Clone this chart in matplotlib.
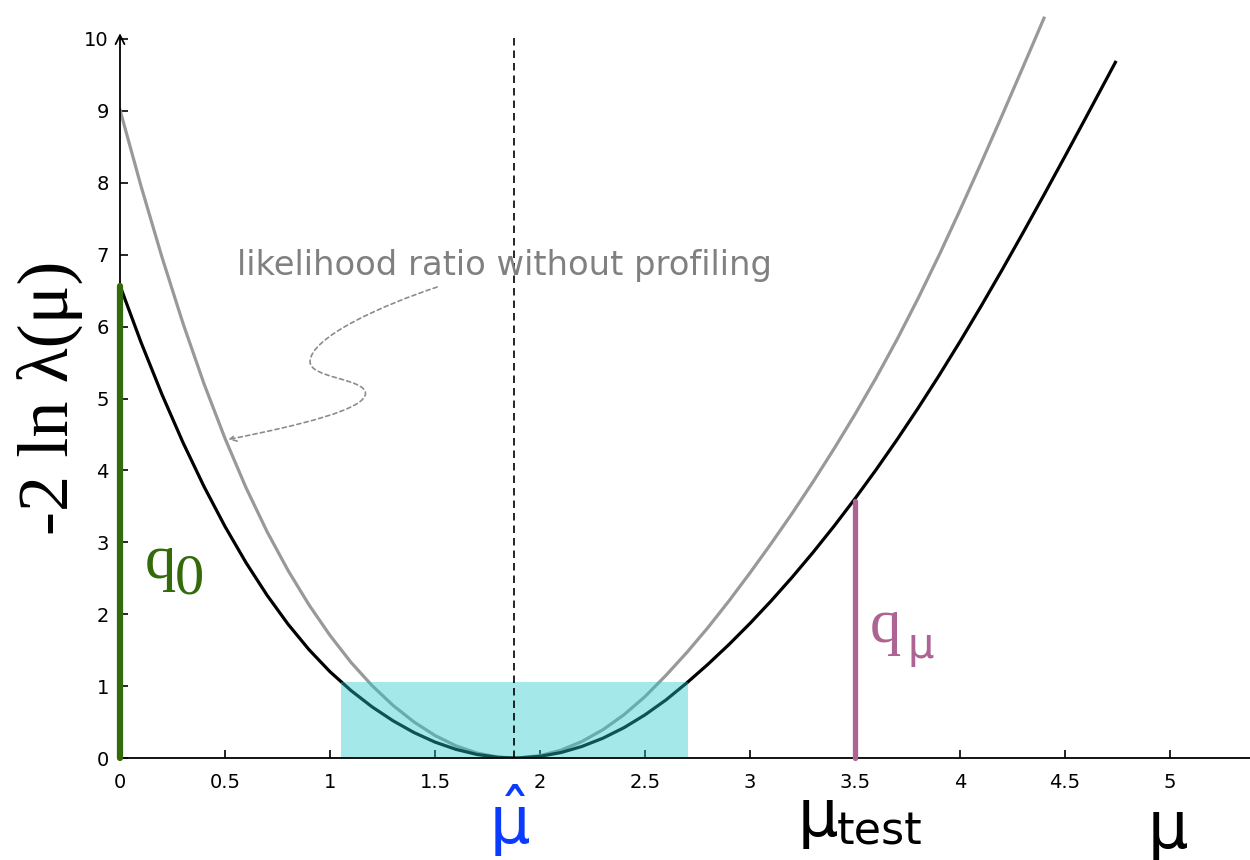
import matplotlib
matplotlib.use("Agg")
import matplotlib.pyplot as plt
from matplotlib.patches import Rectangle, FancyArrowPatch
from matplotlib.path import Path

# ---------------- data ----------------
mu_black = [0.0, 0.1, 0.2, 0.3, 0.4, 0.5, 0.6, 0.7, 0.8, 0.9, 1.0, 1.1, 1.2, 1.3, 1.4,
            1.5, 1.6, 1.7, 1.8, 1.88, 1.9, 2.0, 2.1, 2.2, 2.3, 2.4, 2.5, 2.6, 2.7, 2.8,
            2.9, 3.0, 3.1, 3.2, 3.3, 3.4, 3.5, 3.6, 3.7, 3.8, 3.9, 4.0, 4.1, 4.2, 4.3,
            4.4, 4.5, 4.6, 4.7, 4.74]
profiled = [6.569, 5.782, 5.055, 4.387, 3.776, 3.220, 2.717, 2.265, 1.862, 1.507, 1.200,
            0.938, 0.712, 0.518, 0.354, 0.221, 0.120, 0.049, 0.009, 0.000, 0.001, 0.023,
            0.076, 0.161, 0.276, 0.422, 0.600, 0.808, 1.047, 1.304, 1.579, 1.872, 2.183,
            2.512, 2.859, 3.224, 3.607, 4.008, 4.427, 4.864, 5.319, 5.792, 6.282, 6.787,
            7.305, 7.833, 8.369, 8.911, 9.457, 9.676]

mu_grey = [0.0, 0.1, 0.2, 0.3, 0.4, 0.5, 0.6, 0.7, 0.8, 0.9, 1.0, 1.1, 1.2, 1.3, 1.4,
           1.5, 1.6, 1.7, 1.8, 1.88, 1.9, 2.0, 2.1, 2.2, 2.3, 2.4, 2.5, 2.6, 2.7, 2.8,
           2.9, 3.0, 3.1, 3.2, 3.3, 3.4, 3.5, 3.6, 3.7, 3.8, 3.9, 4.0, 4.1, 4.2, 4.3, 4.4]
unprofiled = [9.015, 7.955, 6.965, 6.045, 5.205, 4.445, 3.760, 3.150, 2.610, 2.130, 1.705,
              1.330, 1.008, 0.732, 0.501, 0.313, 0.169, 0.069, 0.013, 0.000, 0.001, 0.033,
              0.109, 0.230, 0.394, 0.602, 0.854, 1.150, 1.470, 1.815, 2.185, 2.575, 2.980,
              3.400, 3.840, 4.300, 4.780, 5.285, 5.820, 6.390, 6.990, 7.620, 8.270, 8.935,
              9.610, 10.290]

mu_hat = 1.876
mu_test = 3.5
q0 = 6.57
q_mu = 3.58
band_lo, band_hi, band_top = 1.052, 2.703, 1.06
y_axis_top = 10.08

x_ticks = [0, 0.5, 1, 1.5, 2, 2.5, 3, 3.5, 4, 4.5, 5]
x_tick_labels = ["0", "0.5", "1", "1.5", "2", "2.5", "3", "3.5", "4", "4.5", "5"]
y_ticks = [0, 1, 2, 3, 4, 5, 6, 7, 8, 9, 10]
y_tick_labels = ["0", "1", "2", "3", "4", "5", "6", "7", "8", "9", "10"]

# dotted annotation arrow (data coordinates of the S-shaped guide)
arrow_pts = [(1.51, 6.55), (1.25, 6.30), (0.905, 5.85), (0.905, 5.51),
             (0.905, 5.28), (1.169, 5.28), (1.169, 5.07),
             (1.169, 4.85), (0.86, 4.63), (0.515, 4.43)]

# ---------------- figure ----------------
plt.rcParams["mathtext.fontset"] = "dejavusans"
plt.rcParams["mathtext.default"] = "regular"
W, H = 1250, 860
fig = plt.figure(figsize=(W / 100, H / 100), dpi=100)
ax = fig.add_axes([120 / W, 102 / H, 1130 / W, 758 / H])
ax.set_xlim(0, 1130 / 210)
ax.set_ylim(0, 758 / 71.9)

ax.plot(mu_grey, unprofiled, color="#999999", lw=2.3, zorder=2,
        solid_joinstyle="round")
ax.plot(mu_black, profiled, color="black", lw=2.3, zorder=3,
        solid_joinstyle="round")

ax.add_patch(Rectangle((band_lo, 0), band_hi - band_lo, band_top,
                       facecolor=(37 / 255, 201 / 255, 203 / 255), alpha=0.41,
                       edgecolor="none", zorder=4))

ax.plot([mu_hat, mu_hat], [0, y_axis_top], color="black", lw=1.2,
        ls=(0, (4.5, 3)), zorder=5)

# y axis with arrow
ax.annotate("", xy=(0, y_axis_top), xytext=(0, 0),
            arrowprops=dict(arrowstyle="->", color="black", lw=1.3,
                            shrinkA=0, shrinkB=0, mutation_scale=16),
            annotation_clip=False, zorder=5)

ax.plot([0, 0], [0, q0], color="#336b0b", lw=4.5, solid_capstyle="round",
        zorder=7, clip_on=False)
ax.plot([mu_test, mu_test], [0, q_mu], color="#ad6394", lw=3.8,
        solid_capstyle="round", zorder=7, clip_on=False)

codes = [Path.MOVETO] + [Path.CURVE4] * 9
guide = FancyArrowPatch(path=Path(arrow_pts, codes), arrowstyle="->",
                        color="#8c8c8c", lw=1.2, linestyle=(0, (2.5, 2)),
                        mutation_scale=12, zorder=6)
ax.add_patch(guide)

ax.text(0.557, 6.72, "likelihood ratio without profiling", fontsize=24.3,
        color="#808080", ha="left", va="baseline", family="DejaVu Sans", zorder=6)

# spines & ticks
for s in ["top", "right", "left"]:
    ax.spines[s].set_visible(False)
ax.spines["bottom"].set_linewidth(1.3)
ax.spines["bottom"].set_zorder(6)
ax.set_xticks(x_ticks)
ax.set_xticklabels(x_tick_labels)
ax.set_yticks(y_ticks)
ax.set_yticklabels(y_tick_labels)
ax.tick_params(axis="both", direction="in", length=6, width=1.2, labelsize=14)
ax.tick_params(axis="x", pad=11)
ax.tick_params(axis="y", pad=8)

# labels
fig.text(68 / W, 1 - 398 / H, "-2 ln λ(μ)", rotation=90, rotation_mode="anchor",
         ha="center", va="baseline", fontsize=52, family="Liberation Serif")

ax.text(0.119, 2.50, "q", fontsize=45, color="#336b0b", family="Liberation Serif",
        ha="left", va="baseline")
ax.text(0.262, 2.29, "0", fontsize=42, color="#336b0b", family="Liberation Serif",
        ha="left", va="baseline")

ax.text(3.571, 1.61, "q", fontsize=45, color="#ad6394", family="Liberation Serif",
        ha="left", va="baseline")
ax.text(3.748, 1.39, "μ", fontsize=30, color="#ad6394", family="DejaVu Sans",
        ha="left", va="baseline")

ax.text(1.857, -1.19, r"$\hat{\mu}$", fontsize=46, color="#0a3cff",
        ha="center", va="baseline")

ax.text(3.229, -1.09, "μ", fontsize=46, color="black", family="DejaVu Sans",
        ha="left", va="baseline")
ax.text(3.414, -1.21, "test", fontsize=32, color="black", family="DejaVu Sans",
        ha="left", va="baseline")
ax.text(4.895, -1.25, "μ", fontsize=46, color="black", family="DejaVu Sans",
        ha="left", va="baseline")

fig.savefig("out.png", dpi=100, facecolor="white")
